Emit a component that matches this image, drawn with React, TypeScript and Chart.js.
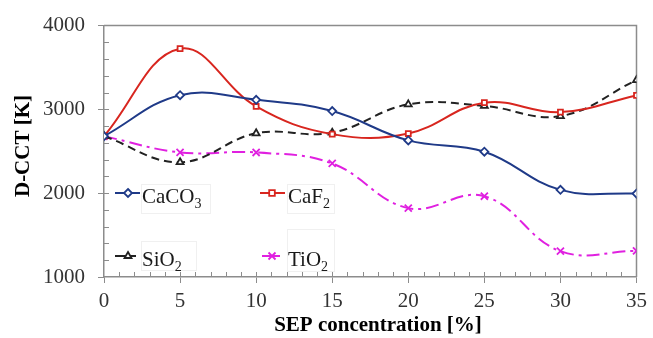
import React, { useEffect, useRef } from 'react';
import { Chart, registerables } from 'chart.js';

Chart.register(...registerables);

const xValues = [0, 5, 10, 15, 20, 25, 30, 35];
const caco3 = [2680, 3170, 3115, 2980, 2630, 2495, 2040, 1995];
const caf2 = [2680, 3725, 3035, 2705, 2712, 3080, 2968, 3167];
const sio2 = [2680, 2370, 2715, 2722, 3060, 3042, 2920, 3350];
const tio2 = [2680, 2487, 2486, 2355, 1822, 1964, 1308, 1312];
const legendBase = ['CaCO', 'CaF', 'SiO', 'TiO'];
const legendSub = ['3', '2', '2', '2'];
const yTitle = 'D-CCT [K]';
const xTitle = 'SEP concentration [%]';

const FONT = "'Liberation Serif', 'Times New Roman', serif";
const colors = ['#1f3a88', '#d8261f', '#222222', '#e020e0'];

const pts = (arr: number[]) => arr.map((y, i) => ({ x: xValues[i], y }));

function drawMarker(ctx: CanvasRenderingContext2D, style: string, x: number, y: number, r: number, color: string) {
  ctx.save();
  ctx.strokeStyle = color;
  ctx.fillStyle = '#fff';
  ctx.lineWidth = 1.8;
  ctx.setLineDash([]);
  ctx.beginPath();
  if (style === 'rectRot') {
    ctx.moveTo(x, y - r); ctx.lineTo(x + r, y); ctx.lineTo(x, y + r); ctx.lineTo(x - r, y); ctx.closePath();
    ctx.fill(); ctx.stroke();
  } else if (style === 'rect') {
    ctx.rect(x - r * 0.8, y - r * 0.8, r * 1.6, r * 1.6);
    ctx.fill(); ctx.stroke();
  } else if (style === 'triangle') {
    ctx.moveTo(x, y - r); ctx.lineTo(x + r * 0.87, y + r * 0.5); ctx.lineTo(x - r * 0.87, y + r * 0.5); ctx.closePath();
    ctx.fill(); ctx.stroke();
  } else {
    const d = r * 0.7;
    ctx.moveTo(x - d, y - d); ctx.lineTo(x + d, y + d);
    ctx.moveTo(x + d, y - d); ctx.lineTo(x - d, y + d);
    ctx.stroke();
  }
  ctx.restore();
}

const decorPlugin = {
  id: 'decor',
  beforeDraw(chart: any) {
    const ctx = chart.ctx;
    ctx.save();
    ctx.fillStyle = '#ffffff';
    ctx.fillRect(0, 0, chart.width, chart.height);
    ctx.restore();
  },
  beforeDatasetsDraw(chart: any) {
    const ctx = chart.ctx;
    const { left, right, top, bottom } = chart.chartArea;
    const xs = chart.scales.x;
    const ys = chart.scales.y;
    ctx.save();
    ctx.strokeStyle = '#8c8c8c';
    ctx.lineWidth = 1.5;
    ctx.beginPath();
    ctx.moveTo(left, top);
    ctx.lineTo(right, top);
    ctx.lineTo(right, bottom);
    ctx.stroke();
    ctx.lineWidth = 1;
    ctx.beginPath();
    for (let v = 1; v < 35; v++) {
      const px = Math.round(xs.getPixelForValue(v)) + 0.5;
      ctx.moveTo(px, bottom);
      ctx.lineTo(px, bottom - 5);
    }
    for (let v = 1200; v < 4000; v += 200) {
      const py = Math.round(ys.getPixelForValue(v)) + 0.5;
      ctx.moveTo(left, py);
      ctx.lineTo(left + 5, py);
    }
    ctx.stroke();
    ctx.restore();
  },
  afterDraw(chart: any) {
    const ctx = chart.ctx;
    ctx.save();
    ctx.fillStyle = '#000';
    ctx.font = `bold 21px ${FONT}`;
    ctx.textAlign = 'center';
    ctx.textBaseline = 'middle';
    ctx.fillText(xTitle, 378, 326);
    ctx.save();
    ctx.translate(23, 146);
    ctx.rotate(-Math.PI / 2);
    ctx.fillStyle = '#fff';
    ctx.fillRect(-52, -12, 104, 24);
    ctx.fillStyle = '#000';
    ctx.fillText(yTitle, 0, 1);
    ctx.restore();

    const items = [
      { lx: 115, lx2: 140, mx: 128, y: 193, tx: 142, box: [141, 184, 69, 29] },
      { lx: 260, lx2: 285, mx: 272, y: 193, tx: 288, box: [287, 184, 47, 29] },
      { lx: 115, lx2: 136, mx: 128, y: 256, tx: 142, box: [141, 241, 55, 29] },
      { lx: 262, lx2: 280, mx: 272, y: 256, tx: 288, box: [287, 229, 47, 42] },
    ];
    items.forEach((it, i) => {
      const ds = chart.data.datasets[i];
      ctx.fillStyle = '#fff';
      ctx.fillRect(it.box[0], it.box[1], it.box[2], it.box[3]);
      ctx.strokeStyle = '#f0f0f0';
      ctx.lineWidth = 1;
      ctx.strokeRect(it.box[0] + 0.5, it.box[1] + 0.5, it.box[2], it.box[3]);
      ctx.strokeStyle = colors[i];
      ctx.lineWidth = 2;
      ctx.setLineDash([]);
      ctx.beginPath();
      ctx.moveTo(it.lx, it.y);
      ctx.lineTo(it.lx2, it.y);
      ctx.stroke();
      drawMarker(ctx, ds.pointStyle, it.mx, it.y, ds.pointRadius, colors[i]);
      ctx.fillStyle = '#1a1a1a';
      ctx.textAlign = 'left';
      ctx.textBaseline = 'alphabetic';
      ctx.font = `21px ${FONT}`;
      const base = legendBase[i];
      ctx.fillText(base, it.tx, it.y + 10);
      const w = ctx.measureText(base).width;
      ctx.font = `14px ${FONT}`;
      ctx.fillText(legendSub[i], it.tx + w, it.y + 15);
    });
    ctx.restore();
  },
};

export default function App() {
  const ref = useRef<HTMLCanvasElement | null>(null);
  useEffect(() => {
    document.body.style.margin = '0';
    if (!ref.current) return;
    const mk = (i: number, data: number[], style: string, radius: number, dash: number[]) => ({
      label: legendBase[i] + legendSub[i],
      data: pts(data),
      borderColor: colors[i],
      backgroundColor: '#ffffff',
      borderWidth: 2,
      borderDash: dash,
      pointStyle: style,
      pointRadius: radius,
      pointBorderWidth: 1.8,
      pointBorderColor: colors[i],
      pointBackgroundColor: '#ffffff',
      tension: 0.4,
    });
    const chart = new Chart(ref.current, {
      type: 'line',
      data: {
        datasets: [
          mk(0, caco3, 'rectRot', 4, []),
          mk(1, caf2, 'rect', 3.5, []),
          mk(2, sio2, 'triangle', 4, [8, 5]),
          mk(3, tio2, 'crossRot', 5, [13, 5, 3, 5]),
        ],
      },
      options: {
        animation: false,
        responsive: false,
        devicePixelRatio: 1,
        layout: { padding: { left: 0, right: 12, top: 24, bottom: 0 } },
        plugins: { legend: { display: false }, tooltip: { enabled: false } },
        scales: {
          x: {
            type: 'linear',
            min: 0,
            max: 35,
            afterFit: (s: any) => { s.height = 61; },
            ticks: { stepSize: 5, color: '#333', font: { family: FONT, size: 21 }, padding: 6, callback: (v: any) => String(v) },
            grid: { display: true, drawOnChartArea: false, drawTicks: true, tickLength: 6, color: '#8c8c8c', lineWidth: 1 },
            border: { display: true, color: '#8c8c8c', width: 1.5 },
          },
          y: {
            type: 'linear',
            min: 1000,
            max: 4000,
            afterFit: (s: any) => { s.width = 104; },
            ticks: { stepSize: 1000, color: '#333', font: { family: FONT, size: 21 }, padding: 13, callback: (v: any) => String(v) },
            grid: { display: true, drawOnChartArea: false, drawTicks: true, tickLength: 6, color: '#8c8c8c', lineWidth: 1 },
            border: { display: true, color: '#8c8c8c', width: 1.5 },
          },
        },
      },
      plugins: [decorPlugin],
    } as any);
    return () => chart.destroy();
  }, []);
  return <canvas ref={ref} width={653} height={338} style={{ display: 'block', width: 653, height: 338 }} />;
}
